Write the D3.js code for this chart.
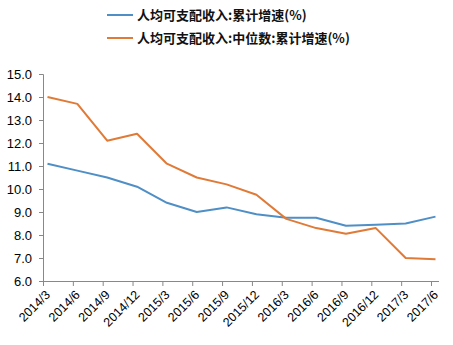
<!DOCTYPE html>
<html><head><meta charset="utf-8">
<script src="https://cdn.jsdelivr.net/npm/d3@7"></script>
<style>
body{margin:0;background:#fff;}
svg{display:block;}
</style></head>
<body>
<svg id="chart" width="453" height="345"></svg>
<script>
const categories = ["2014/3","2014/6","2014/9","2014/12","2015/3","2015/6","2015/9","2015/12","2016/3","2016/6","2016/9","2016/12","2017/3","2017/6"];
const seriesNames = ["人均可支配收入:累计增速(%)","人均可支配收入:中位数:累计增速(%)"];
const meanGrowth = [11.1,10.8,10.5,10.1,9.4,9.0,9.2,8.9,8.75,8.75,8.4,8.45,8.5,8.8];
const medianGrowth = [14.0,13.7,12.1,12.4,11.1,10.5,10.2,9.75,8.7,8.3,8.05,8.3,7.0,6.95];
const yTicks = [6,7,8,9,10,11,12,13,14,15];
const colors = ["#4F8FC6","#E07A37"];

const svg = d3.select("#chart");
const x = d3.scalePoint().domain(categories).range([47.5, 435.5]);
const y = d3.scaleLinear().domain([6, 15]).range([281, 74]);

// Y axis
const yAxis = svg.append("g").attr("transform","translate(43,0)")
  .call(d3.axisLeft(y).tickValues(yTicks).tickFormat(d3.format(".1f")).tickSizeOuter(0).tickSize(4).tickPadding(7));
yAxis.select(".domain").attr("stroke","#888");
yAxis.selectAll(".tick line").attr("stroke","#888");
yAxis.selectAll("text").attr("font-family","Liberation Sans, Arial, sans-serif").attr("font-size","13px").attr("fill","#000");

// X axis
const xAxis = svg.append("g").attr("transform","translate(-4.5,281)")
  .call(d3.axisBottom(x).tickSizeOuter(0).tickSize(5));
xAxis.select(".domain").remove();
xAxis.append("line").attr("x1",47.5).attr("x2",443.5).attr("y1",0.5).attr("y2",0.5).attr("stroke","#888");
xAxis.selectAll(".tick line").attr("stroke","#888");
xAxis.selectAll("text")
  .attr("font-family","Liberation Sans, Arial, sans-serif").attr("font-size","12.5px").attr("fill","#000")
  .attr("text-anchor","end")
  .attr("transform","rotate(-45)")
  .attr("dx","-0.4em").attr("dy","0.6em");

// Lines
const line = d3.line().x((d,i)=>x(categories[i])).y(d=>y(d));
[meanGrowth, medianGrowth].forEach((s,k)=>{
  svg.append("path").datum(s).attr("d",line).attr("fill","none")
    .attr("stroke",colors[k]).attr("stroke-width",2).attr("stroke-linejoin","round");
});

// Legend
const leg = svg.append("g");
seriesNames.forEach((n,k)=>{
  const yy = 15 + k*23;
  leg.append("line").attr("x1",107).attr("x2",133).attr("y1",yy).attr("y2",yy)
    .attr("stroke",colors[k]).attr("stroke-width",2);
  leg.append("text").attr("x",137).attr("y",yy).attr("dy","0.35em")
    .attr("font-family","Noto Sans CJK SC, sans-serif").attr("font-size","13px").attr("font-weight","bold")
    .attr("fill","#111").text(n);
});
</script>
</body></html>
